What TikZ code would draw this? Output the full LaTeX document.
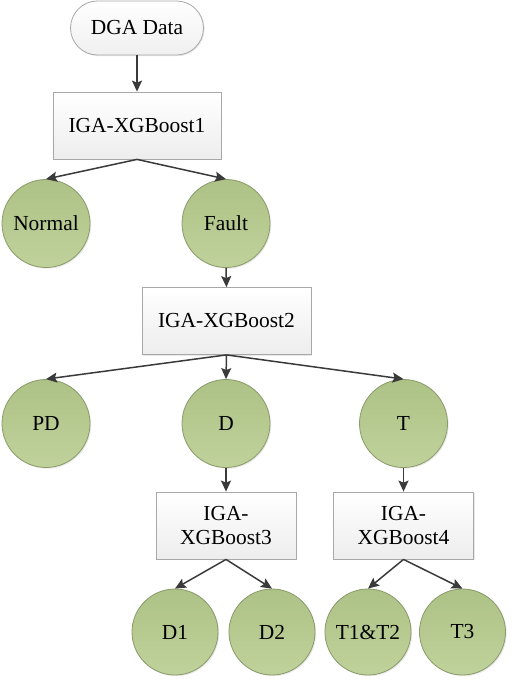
\documentclass[tikz,border=0pt]{standalone}
\usepackage{fontspec}
\setmainfont{Liberation Serif}
\usetikzlibrary{arrows.meta,shadows}
\definecolor{arr}{HTML}{3A3A3A}
\definecolor{cfillT}{HTML}{ADC286}
\definecolor{cfillB}{HTML}{C0D29B}
\definecolor{cdraw}{HTML}{8A9A6A}
\definecolor{bdraw}{HTML}{A8A8A8}
\tikzset{
  txt/.style={font=\fontsize{21.5}{24}\selectfont, align=center, inner sep=0pt},
  pill/.style={txt, draw=bdraw, line width=0.8bp, top color=white, bottom color=gray!12,
    minimum width=133bp, minimum height=54bp, rounded corners=27bp,
    drop shadow={shadow xshift=1.2bp, shadow yshift=-1.2bp, fill=gray!35}},
  boxnode/.style={txt, draw=bdraw, line width=0.8bp, top color=white, bottom color=gray!14,
    minimum height=67bp,
    drop shadow={shadow xshift=1.2bp, shadow yshift=-1.2bp, fill=gray!35}},
  circ/.style={txt, circle, draw=cdraw, line width=0.8bp, top color=cfillT, bottom color=cfillB,
    minimum size=88bp,
    drop shadow={shadow xshift=1.2bp, shadow yshift=-1.2bp, fill=gray!35}},
  conn/.style={draw=arr, line width=1.5bp, -{Stealth[length=11bp,width=10bp,inset=2bp]}}
}
\begin{document}
\begin{tikzpicture}[x=1bp,y=-1bp]
\useasboundingbox (0,0) rectangle (512,681);
\node[pill] (dga) at (137,28) {DGA Data};
\node[boxnode, minimum width=168bp] (b1) at (137,125.5) {IGA-XGBoost1};
\node[circ] (normal) at (46,223.5) {Normal};
\node[circ] (fault) at (226,223.5) {Fault};
\node[boxnode, minimum width=169bp] (b2) at (226.5,321) {IGA-XGBoost2};
\node[circ] (pd) at (46,423.5) {PD};
\node[circ] (d) at (226,423.5) {D};
\node[circ] (t) at (403.5,423.5) {T};
\node[boxnode, minimum width=140bp] (b3) at (226,525.5) {IGA-\\XGBoost3};
\node[boxnode, minimum width=140bp] (b4) at (403.5,525.5) {IGA-\\XGBoost4};
\node[circ, minimum size=86bp] (d1) at (175,632) {D1};
\node[circ, minimum size=86bp] (d2) at (272,632) {D2};
\node[circ, minimum size=86bp] (t12) at (368,632) {T1\&T2};
\node[circ, minimum size=86bp] (t3) at (462.5,632) {T3};
\draw[conn] (dga.south) -- (b1.north);
\draw[conn] (b1.south) -- (normal.north);
\draw[conn] (b1.south) -- (fault.north);
\draw[conn] (fault.south) -- (b2.north);
\draw[conn] (b2.south) -- (pd.north);
\draw[conn] (b2.south) -- (d.north);
\draw[conn] (b2.south) -- (t.north);
\draw[conn] (d.south) -- (b3.north);
\draw[conn] (t.south) -- (b4.north);
\draw[conn] (b3.south) -- (d1.north);
\draw[conn] (b3.south) -- (d2.north);
\draw[conn] (b4.south) -- (t12.north);
\draw[conn] (b4.south) -- (t3.north);
\end{tikzpicture}
\end{document}
